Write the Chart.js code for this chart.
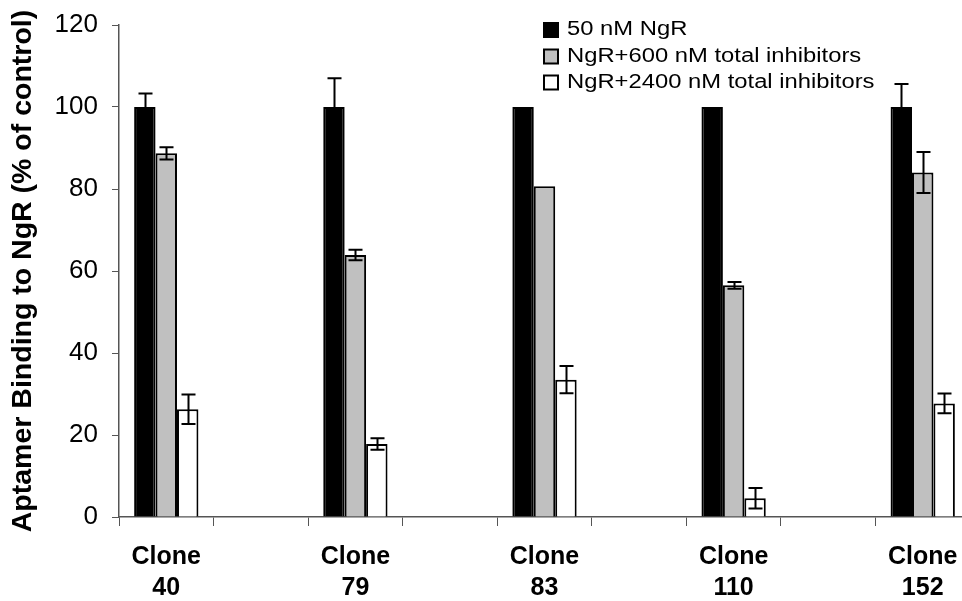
<!DOCTYPE html>
<html>
<head>
<meta charset="utf-8">
<script src="https://cdn.jsdelivr.net/npm/chart.js@4"></script>
<style>
  html,body{margin:0;padding:0;background:#fff;overflow:hidden}
  #wrap{width:970px;height:601px}
</style>
</head>
<body>
<div id="wrap"><canvas id="chart" width="970" height="601"></canvas></div>
<script>
// clones on the x axis (every other slot is left empty)
const clones = ['40','79','83','110','152'];
const seriesNames = ['50 nM NgR','NgR+600 nM total inhibitors','NgR+2400 nM total inhibitors'];

// bar heights (% of control)
const ngr50   = [100, 100, 100, 100, 100];
const ngr600  = [88.7, 63.9, 80.7, 56.5, 84.0];
const ngr2400 = [26.3, 17.8, 33.5, 4.6, 27.7];

// error bars (+/-)
const err50   = [3.3, 7.0, 0, 0, 5.6];
const err600  = [1.5, 1.3, 0, 0.8, 5.0];
const err2400 = [3.6, 1.4, 3.3, 2.5, 2.4];

const yTicks = [0, 20, 40, 60, 80, 100, 120];

const FONT = '"Liberation Sans", Arial, sans-serif';

// spread 5 values into 9 slots with blanks in between
function spread(arr, blank){
  const out = [];
  arr.forEach((v,i)=>{ if(i>0) out.push(blank); out.push(v); });
  return out;
}

const labels = spread(clones.map(c=>['Clone', c]), '');
const errs = [spread(err50,null), spread(err600,null), spread(err2400,null)];

const errorBars = {
  id:'errorBars',
  afterDatasetsDraw(chart){
    const ctx = chart.ctx;
    const y = chart.scales.y;
    ctx.save();
    ctx.strokeStyle = '#000';
    ctx.lineWidth = 2;
    chart.data.datasets.forEach((ds, i)=>{
      const meta = chart.getDatasetMeta(i);
      meta.data.forEach((bar, j)=>{
        const v = ds.data[j];
        const e = errs[i][j];
        if(v == null || !e) return;
        const top = y.getPixelForValue(v + e);
        const bot = y.getPixelForValue(v - e);
        const x = Math.round(bar.x) + 0.5;
        ctx.beginPath();
        ctx.moveTo(x, top); ctx.lineTo(x, bot);
        ctx.moveTo(x-7, top); ctx.lineTo(x+7, top);
        ctx.moveTo(x-7, bot); ctx.lineTo(x+7, bot);
        ctx.stroke();
      });
    });
    ctx.restore();
  }
};

const legendBox = {
  id:'legendBox',
  afterDraw(chart){
    const ctx = chart.ctx;
    const rows = [30, 56.5, 82.5];
    ctx.save();
    chart.data.datasets.forEach((ds, i)=>{
      const cy = rows[i];
      ctx.fillStyle = ds.backgroundColor;
      ctx.fillRect(544, cy-7, 14, 14);
      ctx.strokeStyle = '#000';
      ctx.lineWidth = 2;
      ctx.strokeRect(544, cy-7, 14, 14);
      ctx.save();
      ctx.translate(567, cy);
      ctx.scale(1.22, 1);
      ctx.fillStyle = '#000';
      ctx.font = '19.5px ' + FONT;
      ctx.textBaseline = 'middle';
      ctx.fillText(ds.label, 0, 0);
      ctx.restore();
    });
    ctx.restore();
  }
};

const colors = ['#000000', '#c0c0c0', '#ffffff'];
const values = [ngr50, ngr600, ngr2400];

new Chart(document.getElementById('chart'), {
  type:'bar',
  data:{
    labels,
    datasets: values.map((vals, i)=>({
      label: seriesNames[i],
      data: spread(vals, null),
      backgroundColor: colors[i],
      borderColor: '#000',
      borderWidth: 2,
      borderSkipped: 'bottom',
      categoryPercentage: 0.68,
      barPercentage: 1.0
    }))
  },
  options:{
    responsive:false,
    animation:false,
    devicePixelRatio:1,
    layout:{padding:{top:25, right:0, bottom:0, left:0}},
    plugins:{legend:{display:false}, tooltip:{enabled:false}},
    scales:{
      x:{
        offset:true,
        afterFit(s){ s.height = 84; s.paddingLeft = 0; s.paddingRight = 0; },
        grid:{offset:true, drawOnChartArea:false, drawTicks:true, tickLength:9, color:'#555', lineWidth:1},
        border:{display:true, color:'#555', width:1.5},
        ticks:{
          color:'#000', autoSkip:false, maxRotation:0, padding:16,
          font:{family:FONT, size:25, weight:'bold', lineHeight:1.24}
        }
      },
      y:{
        min:0, max:120,
        afterFit(s){ s.width = 119; s.paddingTop = 0; s.paddingBottom = 0; },
        afterBuildTicks(s){ s.ticks = yTicks.map(v=>({value:v})); },
        grid:{drawOnChartArea:false, drawTicks:true, tickLength:7, color:'#555', lineWidth:1},
        border:{display:true, color:'#555', width:1.5},
        ticks:{color:'#000', padding:14, font:{family:FONT, size:26}},
        title:{
          display:true,
          text:'Aptamer Binding to NgR (% of control)',
          color:'#000',
          padding:{top:6, bottom:0},
          font:{family:FONT, size:28.5, weight:'bold'}
        }
      }
    }
  },
  plugins:[errorBars, legendBox]
});
</script>
</body>
</html>
